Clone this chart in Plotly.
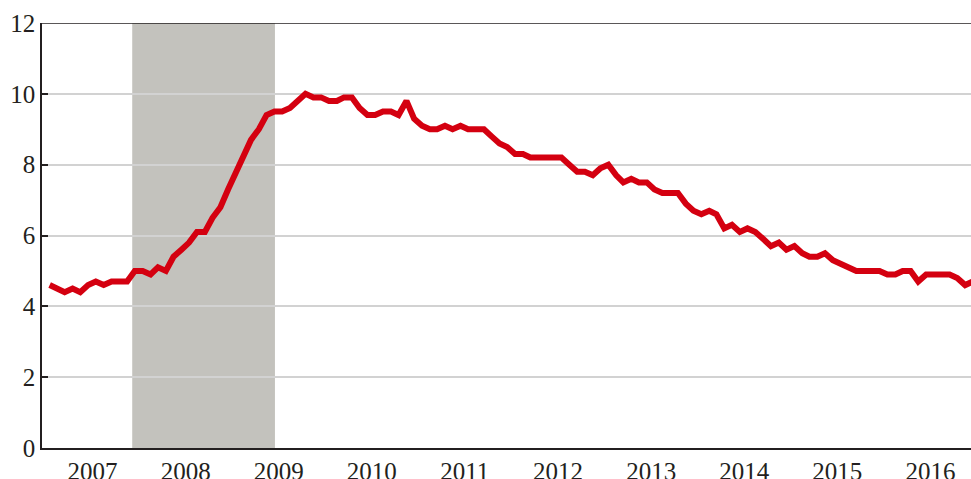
import pandas as pd
import plotly.graph_objects as go

# 月次失業率（%）2007-2016
rate_2007 = [4.6, 4.5, 4.4, 4.5, 4.4, 4.6, 4.7, 4.6, 4.7, 4.7, 4.7, 5.0]
rate_2008 = [5.0, 4.9, 5.1, 5.0, 5.4, 5.6, 5.8, 6.1, 6.1, 6.5, 6.8, 7.3]
rate_2009 = [7.8, 8.3, 8.7, 9.0, 9.4, 9.5, 9.5, 9.6, 9.8, 10.0, 9.9, 9.9]
rate_2010 = [9.8, 9.8, 9.9, 9.9, 9.6, 9.4, 9.4, 9.5, 9.5, 9.4, 9.8, 9.3]
rate_2011 = [9.1, 9.0, 9.0, 9.1, 9.0, 9.1, 9.0, 9.0, 9.0, 8.8, 8.6, 8.5]
rate_2012 = [8.3, 8.3, 8.2, 8.2, 8.2, 8.2, 8.2, 8.0, 7.8, 7.8, 7.7, 7.9]
rate_2013 = [8.0, 7.7, 7.5, 7.6, 7.5, 7.5, 7.3, 7.2, 7.2, 7.2, 6.9, 6.7]
rate_2014 = [6.6, 6.7, 6.6, 6.2, 6.3, 6.1, 6.2, 6.1, 5.9, 5.7, 5.8, 5.6]
rate_2015 = [5.7, 5.5, 5.4, 5.4, 5.5, 5.3, 5.2, 5.1, 5.0, 5.0, 5.0, 5.0]
rate_2016 = [4.9, 4.9, 5.0, 5.0, 4.7, 4.9, 4.9, 4.9, 4.9, 4.8, 4.6, 4.7]

years = list(range(2007, 2017))
year_labels = [str(y) for y in years]
y_ticks = [0, 2, 4, 6, 8, 10, 12]

# 景気後退期（シャドー）
recession_start = "2007-12-05"
recession_end = "2009-06-17"

rates = (rate_2007 + rate_2008 + rate_2009 + rate_2010 + rate_2011
         + rate_2012 + rate_2013 + rate_2014 + rate_2015 + rate_2016)
months = pd.date_range("2007-01-01", periods=len(rates), freq="MS") + pd.Timedelta(days=14)

x_range = ["2006-12-16", "2016-12-08"]
font_family = "Liberation Serif"
ink = "#231f20"

fig = go.Figure()

fig.add_trace(go.Scatter(
    x=months, y=rates,
    mode="lines",
    line=dict(color="#d40010", width=6),
    showlegend=False,
    hoverinfo="x+y",
))

fig.add_shape(
    type="rect", xref="x", yref="y",
    x0=recession_start, x1=recession_end, y0=0, y1=12,
    fillcolor="#c3c2bd", line_width=0, layer="below",
)
# 上枠線
fig.add_shape(
    type="line", xref="paper", yref="y",
    x0=0, x1=1, y0=12, y1=12,
    line=dict(color=ink, width=1.5),
)

fig.update_layout(
    width=971, height=479,
    margin=dict(l=42, r=0, t=23, b=31),
    paper_bgcolor="white",
    plot_bgcolor="white",
    font=dict(family=font_family, size=25, color=ink),
    xaxis=dict(
        type="date",
        range=x_range,
        tickvals=[f"{y}-07-02" for y in years],
        ticktext=year_labels,
        ticks="",
        showgrid=False,
        showline=True, linecolor=ink, linewidth=1.5,
        zeroline=False,
        tickfont=dict(family=font_family, size=25),
        ticklabelstandoff=0,
        automargin=False,
    ),
    xaxis2=dict(
        type="date",
        overlaying="x",
        side="bottom",
        range=x_range,
        tickvals=[f"{y}-01-01" for y in years[1:]],
        ticks="inside", ticklen=6, tickwidth=1.5, tickcolor=ink,
        showticklabels=False,
        showgrid=False,
        showline=False,
        zeroline=False,
        automargin=False,
    ),
    yaxis=dict(
        range=[0, 12],
        tickvals=y_ticks,
        ticks="inside", ticklen=6, tickwidth=1.5, tickcolor=ink,
        showgrid=True, gridcolor="#d2d2d2", gridwidth=2,
        showline=True, linecolor=ink, linewidth=1.5,
        zeroline=False,
        tickfont=dict(family=font_family, size=25),
        automargin=False,
    ),
)

# ページ余白とスクロールバーを消す
fig.write_html(
    "out.html",
    config={"displayModeBar": False},
    post_script="document.body.style.margin='0';document.body.style.overflow='hidden';",
)
